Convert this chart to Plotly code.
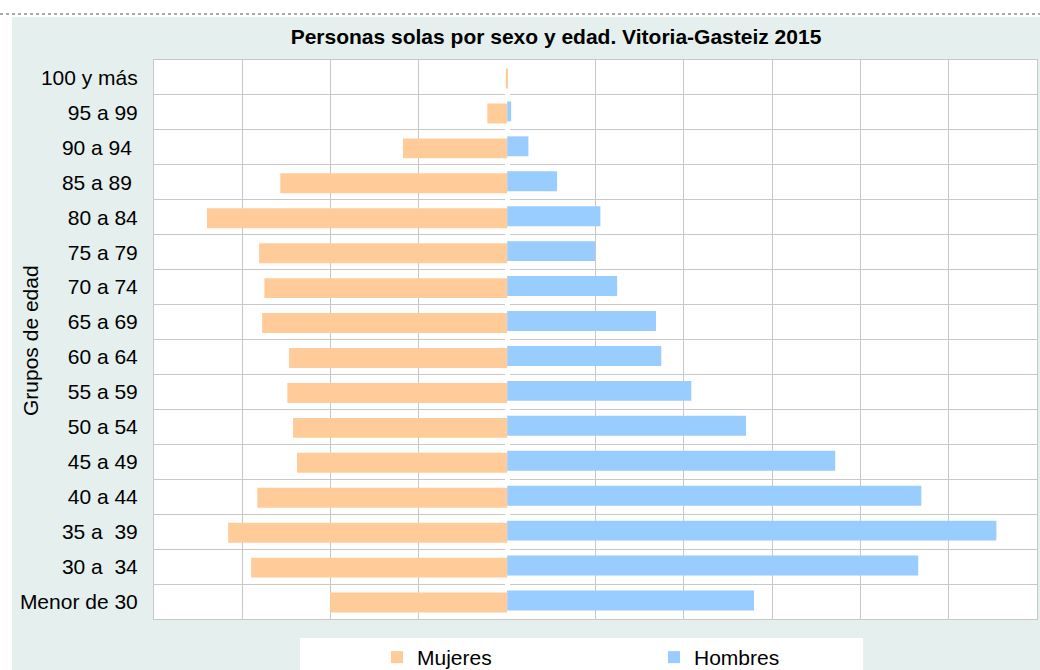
import plotly.graph_objects as go

grupos = ["Menor de 30", "30 a  34", "35 a  39", "40 a 44", "45 a 49", "50 a 54",
          "55 a 59", "60 a 64", "65 a 69", "70 a 74", "75 a 79", "80 a 84",
          "85 a 89 ", "90 a 94 ", "95 a 99", "100 y más"]
mujeres = [401, 580, 632, 566, 476, 485, 498, 494, 555, 550, 562, 680, 514, 236, 45, 3]
hombres = [559, 931, 1108, 938, 743, 541, 417, 349, 337, 249, 199, 211, 113, 48, 9, 0]

W, H = 1040, 670
L, R, T, B = 154, 3, 60, 51
pw, ph = W - L - R, H - T - B

def px(x):
    return (x - L) / pw

def py(y):
    return (H - B - y) / ph

FONT = "Liberation Sans, Arial, sans-serif"
fig = go.Figure()
fig.add_trace(go.Bar(y=grupos, x=[-v for v in mujeres], orientation="h", name="Mujeres",
                     marker=dict(color="#FFCC99", line=dict(width=0)),
                     width=0.57, offset=-0.315, customdata=mujeres,
                     hovertemplate="%{y}: %{customdata}<extra>Mujeres</extra>"))
fig.add_trace(go.Bar(y=grupos, x=hombres, orientation="h", name="Hombres",
                     marker=dict(color="#99CCFF", line=dict(width=0)),
                     width=0.57, offset=-0.255,
                     hovertemplate="%{y}: %{x}<extra>Hombres</extra>"))

shapes = [
    # white strip on top and on the left of the coloured chart area
    dict(type="rect", xref="paper", yref="paper", x0=px(-5), x1=px(1045), y0=py(17), y1=py(-5),
         fillcolor="#FFFFFF", line=dict(width=0), layer="below"),
    dict(type="rect", xref="paper", yref="paper", x0=px(-5), x1=px(12), y0=py(675), y1=py(-5),
         fillcolor="#FFFFFF", line=dict(width=0), layer="below"),
    dict(type="line", xref="paper", yref="paper", x0=px(0), x1=px(1040), y0=py(14), y1=py(14),
         line=dict(color="#A8A8A8", width=2, dash="dot"), layer="below"),
    # white legend box
    dict(type="rect", xref="paper", yref="paper", x0=px(300), x1=px(863), y0=py(680), y1=py(638),
         fillcolor="#FFFFFF", line=dict(width=0), layer="below"),
]

fig.update_layout(
    width=W, height=H,
    margin=dict(l=L, r=R, t=T, b=B, pad=0, autoexpand=False),
    paper_bgcolor="#E5EFED", plot_bgcolor="#FFFFFF",
    barmode="overlay",
    font=dict(family=FONT, color="#000000"),
    title=dict(text="<b>Personas solas por sexo y edad. Vitoria-Gasteiz 2015</b>",
               x=556 / W, xref="container", xanchor="center",
               y=1 - 37 / H, yref="container", yanchor="middle",
               font=dict(size=21, family=FONT, color="#000000")),
    xaxis=dict(range=[-800, 1200], dtick=200, tick0=0, showticklabels=False,
               showgrid=True, gridcolor="#C8C8C8", gridwidth=1,
               zeroline=True, zerolinecolor="#FFFFFF", zerolinewidth=5,
               showline=True, linecolor="#C8C8C8", mirror=True, ticks="",
               automargin=False, fixedrange=True),
    yaxis=dict(type="category", categoryorder="array", categoryarray=grupos,
               tickson="boundaries", showgrid=True, gridcolor="#C8C8C8", gridwidth=1,
               showline=True, linecolor="#C8C8C8", mirror=True, ticks="",
               ticklabelstandoff=11, tickfont=dict(size=21, family=FONT),
               automargin=False, fixedrange=True),
    annotations=[dict(text="Grupos de edad", xref="paper", yref="paper",
                      x=px(30), y=py(340), xanchor="center", yanchor="middle",
                      textangle=-90, showarrow=False, font=dict(size=21, family=FONT))],
    legend=dict(orientation="h", x=px(377), xanchor="left", y=py(637), yanchor="top",
                bgcolor="rgba(0,0,0,0)", font=dict(size=21, family=FONT),
                entrywidth=232, entrywidthmode="pixels", traceorder="normal"),
    shapes=shapes,
    showlegend=True,
)

fig.write_html("out.html", config={"displayModeBar": False},
               post_script="document.body.style.margin='0';document.body.style.overflow='hidden';")
